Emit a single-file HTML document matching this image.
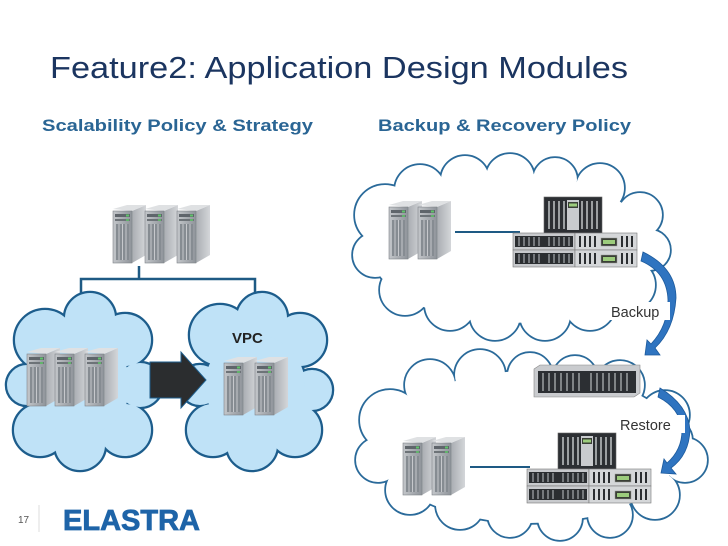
<!DOCTYPE html>
<html><head><meta charset="utf-8"><style>
html,body{margin:0;padding:0;background:#fff;width:728px;height:546px;overflow:hidden}
svg{display:block}
text{font-family:"Liberation Sans",Arial,sans-serif}
</style></head><body>
<svg width="728" height="546" viewBox="0 0 728 546" xmlns="http://www.w3.org/2000/svg">
<defs>
<linearGradient id="sf" x1="0" x2="1"><stop offset="0" stop-color="#c3c6ca"/><stop offset="1" stop-color="#8f949a"/></linearGradient>
<linearGradient id="ss" x1="0" x2="1"><stop offset="0" stop-color="#a9adb2"/><stop offset="1" stop-color="#d4d6d9"/></linearGradient>
<symbol id="srv" viewBox="0 0 32 58" width="32" height="58" overflow="visible">
  <polygon points="19,6 33,0 33,50 19,58" fill="url(#ss)"/>
  <polygon points="0,4 14,0 33,0 19,6" fill="#dfe1e3"/>
  <rect x="0" y="6" width="19" height="52" fill="url(#sf)" stroke="#7e8288" stroke-width="0.6"/>
  <rect x="2" y="9" width="15" height="3" fill="#5f656b"/>
  <rect x="13" y="9.5" width="3" height="2" fill="#5fc46a"/>
  <rect x="2" y="14" width="15" height="2" fill="#6d7378"/>
  <rect x="13" y="14.2" width="3" height="1.6" fill="#5fc46a"/>
  <rect x="3" y="19" width="13" height="36" fill="#868c92"/>
  <g stroke="#d6d8db" stroke-width="0.8"><line x1="6" y1="19" x2="6" y2="55"/><line x1="9.5" y1="19" x2="9.5" y2="55"/><line x1="13" y1="19" x2="13" y2="55"/></g>
</symbol>
<symbol id="rack" viewBox="0 0 62 17" width="62" height="17" overflow="visible">
  <rect width="62" height="17" fill="#c8cacd" stroke="#777" stroke-width="0.6"/>
  <rect x="2" y="3" width="58" height="11" fill="#2b2e31"/>
  <g stroke="#a7abaf" stroke-width="1.2"><line x1="6" y1="4" x2="6" y2="13"/><line x1="11" y1="4" x2="11" y2="13"/><line x1="16" y1="4" x2="16" y2="13"/><line x1="21" y1="4" x2="21" y2="13"/><line x1="26" y1="4" x2="26" y2="13"/><line x1="36" y1="4" x2="36" y2="13"/><line x1="41" y1="4" x2="41" y2="13"/><line x1="46" y1="4" x2="46" y2="13"/><line x1="51" y1="4" x2="51" y2="13"/><line x1="56" y1="4" x2="56" y2="13"/></g>
</symbol>
<symbol id="ctl" viewBox="0 0 62 17" width="62" height="17" overflow="visible">
  <rect width="62" height="17" fill="#d5d7d9" stroke="#777" stroke-width="0.6"/>
  <g stroke="#2b2e31" stroke-width="2"><line x1="5" y1="3" x2="5" y2="14"/><line x1="10" y1="3" x2="10" y2="14"/><line x1="15" y1="3" x2="15" y2="14"/><line x1="20" y1="3" x2="20" y2="14"/><line x1="47" y1="3" x2="47" y2="14"/><line x1="52" y1="3" x2="52" y2="14"/><line x1="57" y1="3" x2="57" y2="14"/></g>
  <rect x="26" y="5" width="16" height="8" fill="#3a3f36" stroke="#999" stroke-width="0.5"/>
  <rect x="28" y="7" width="12" height="4" fill="#9ccc7c"/>
</symbol>
<symbol id="stor" viewBox="0 0 124 70" width="124" height="70" overflow="visible">
  <rect x="31" y="0" width="58" height="36" fill="#2c2f33" stroke="#666" stroke-width="0.6"/>
  <g stroke="#b9bcbf" stroke-width="1.6"><line x1="36" y1="4" x2="36" y2="32"/><line x1="41" y1="4" x2="41" y2="32"/><line x1="46" y1="4" x2="46" y2="32"/><line x1="51" y1="4" x2="51" y2="32"/><line x1="69" y1="4" x2="69" y2="32"/><line x1="74" y1="4" x2="74" y2="32"/><line x1="79" y1="4" x2="79" y2="32"/><line x1="84" y1="4" x2="84" y2="32"/></g>
  <rect x="54" y="3" width="12" height="30" fill="#c9cbce"/>
  <rect x="55" y="5" width="10" height="6" fill="#3a3f36"/><rect x="56" y="6.5" width="8" height="3" fill="#9ccc7c"/>
  <use href="#rack" x="0" y="36"/><use href="#rack" x="0" y="53"/>
  <use href="#ctl" x="62" y="36"/><use href="#ctl" x="62" y="53"/>
</symbol>
<g id="cl1"><circle cx="45" cy="340" r="30"/><circle cx="90" cy="318" r="25"/><circle cx="125" cy="340" r="26"/><circle cx="140" cy="385" r="22"/><circle cx="125" cy="430" r="26"/><circle cx="80" cy="445" r="25"/><circle cx="40" cy="430" r="26"/><circle cx="27" cy="385" r="20"/><circle cx="80" cy="385" r="50"/></g>
<g id="cl2"><circle cx="220" cy="335" r="30"/><circle cx="262" cy="318" r="25"/><circle cx="300" cy="340" r="26"/><circle cx="312" cy="390" r="20"/><circle cx="295" cy="430" r="26"/><circle cx="252" cy="445" r="25"/><circle cx="213" cy="430" r="26"/><circle cx="200" cy="385" r="20"/><circle cx="255" cy="385" r="50"/></g>
<g id="cl3"><circle cx="385" cy="215" r="30"/><circle cx="420" cy="190" r="25"/><circle cx="465" cy="180" r="24"/><circle cx="510" cy="178" r="24"/><circle cx="555" cy="180" r="22"/><circle cx="600" cy="188" r="24"/><circle cx="640" cy="215" r="22"/><circle cx="650" cy="250" r="20"/><circle cx="630" cy="285" r="25"/><circle cx="590" cy="305" r="25"/><circle cx="545" cy="315" r="25"/><circle cx="495" cy="315" r="25"/><circle cx="450" cy="305" r="25"/><circle cx="405" cy="290" r="25"/><circle cx="375" cy="255" r="22"/><ellipse cx="510" cy="248" rx="140" ry="75"/></g>
<g id="cl4"><circle cx="390" cy="420" r="30"/><circle cx="430" cy="385" r="25"/><circle cx="480" cy="375" r="25"/><circle cx="530" cy="375" r="22"/><circle cx="575" cy="378" r="22"/><circle cx="620" cy="385" r="24"/><circle cx="665" cy="415" r="24"/><circle cx="672" cy="440" r="20"/><circle cx="685" cy="460" r="22"/><circle cx="655" cy="495" r="24"/><circle cx="610" cy="515" r="22"/><circle cx="560" cy="518" r="22"/><circle cx="510" cy="515" r="22"/><circle cx="460" cy="505" r="24"/><circle cx="410" cy="490" r="24"/><circle cx="378" cy="460" r="22"/><ellipse cx="530" cy="447" rx="150" ry="76"/></g>
</defs>

<text x="50" y="78" font-size="31" fill="#1b3560" textLength="578" lengthAdjust="spacingAndGlyphs">Feature2: Application Design Modules</text>
<text x="42" y="131" font-size="17" font-weight="bold" fill="#2a6594" textLength="271" lengthAdjust="spacingAndGlyphs">Scalability Policy &amp; Strategy</text>
<text x="378" y="131" font-size="17" font-weight="bold" fill="#2a6594" textLength="253" lengthAdjust="spacingAndGlyphs">Backup &amp; Recovery Policy</text>

<g stroke="#1e5a84" stroke-width="2.5" fill="none">
<line x1="139" y1="266" x2="139" y2="280"/>
<polyline points="81,310 81,279 255,279 255,310"/>
</g>

<g stroke="#1d5d8c" stroke-width="4.5" fill="#1d5d8c"><use href="#cl1"/><use href="#cl2"/></g>
<g fill="#bfe2f7"><use href="#cl1"/><use href="#cl2"/></g>
<g stroke="#2a6a9a" stroke-width="3.5" fill="#2a6a9a"><use href="#cl3"/><use href="#cl4"/></g>
<g fill="#fff"><use href="#cl3"/><use href="#cl4"/></g>

<use href="#srv" x="113" y="205"/><use href="#srv" x="145" y="205"/><use href="#srv" x="177" y="205"/>
<use href="#srv" x="27" y="348"/><use href="#srv" x="55" y="348"/><use href="#srv" x="85" y="348"/>
<use href="#srv" x="224" y="357"/><use href="#srv" x="255" y="357"/>
<polygon points="150,362 181,362 181,352 206,380 181,408 181,398 150,398" fill="#2b2d2f" stroke="#1d5d8c" stroke-width="1"/>
<text x="232" y="343" font-size="15" font-weight="bold" fill="#222">VPC</text>

<line x1="455" y1="232" x2="520" y2="232" stroke="#1e5a84" stroke-width="2"/>
<line x1="470" y1="467" x2="530" y2="467" stroke="#1e5a84" stroke-width="2"/>
<use href="#srv" x="389" y="201"/><use href="#srv" x="418" y="201"/>
<use href="#srv" x="403" y="437"/><use href="#srv" x="432" y="437"/>
<use href="#stor" x="513" y="197"/>
<use href="#stor" x="527" y="433"/>
<g transform="translate(534,365)">
<polygon points="0,4 6,0 106,0 106,28 100,32 0,32" fill="#c9cbce" stroke="#888" stroke-width="0.6"/>
<rect x="4" y="6" width="98" height="22" fill="#2c2f33"/>
<g stroke="#aeb1b4" stroke-width="1.3"><line x1="9" y1="8" x2="9" y2="26"/><line x1="15" y1="8" x2="15" y2="26"/><line x1="21" y1="8" x2="21" y2="26"/><line x1="27" y1="8" x2="27" y2="26"/><line x1="33" y1="8" x2="33" y2="26"/><line x1="39" y1="8" x2="39" y2="26"/><line x1="45" y1="8" x2="45" y2="26"/><line x1="57" y1="8" x2="57" y2="26"/><line x1="63" y1="8" x2="63" y2="26"/><line x1="69" y1="8" x2="69" y2="26"/><line x1="75" y1="8" x2="75" y2="26"/><line x1="81" y1="8" x2="81" y2="26"/><line x1="87" y1="8" x2="87" y2="26"/><line x1="93" y1="8" x2="93" y2="26"/></g>
</g>

<path d="M643,252 Q676,268 676,298 Q674,330 655,348 L660,355 L645,355 L647,340 L651,344 Q668,326 668,300 Q667,272 641,261 Z" fill="#2f74c0" stroke="#1c5a9c" stroke-width="0.8"/>
<path d="M660,388 Q688,405 690,430 Q689,455 671,468 L676,474 L661,473 L664,459 L667,463 Q682,450 682,430 Q680,408 658,397 Z" fill="#2f74c0" stroke="#1c5a9c" stroke-width="0.8"/>
<rect x="608" y="302" width="62" height="18" fill="#fff"/>
<text x="611" y="317" font-size="14.5" fill="#333">Backup</text>
<rect x="617" y="415" width="68" height="18" fill="#fff"/>
<text x="620" y="430" font-size="14.5" fill="#333">Restore</text>

<text x="18" y="523" font-size="10" fill="#555">17</text>
<line x1="39" y1="505" x2="39" y2="532" stroke="#ddd" stroke-width="1"/>
<text x="63" y="530" font-size="29" font-weight="bold" fill="#1e64a8" stroke="#1e64a8" stroke-width="0.8" textLength="137" lengthAdjust="spacingAndGlyphs">ELASTRA</text>
</svg>
</body></html>
